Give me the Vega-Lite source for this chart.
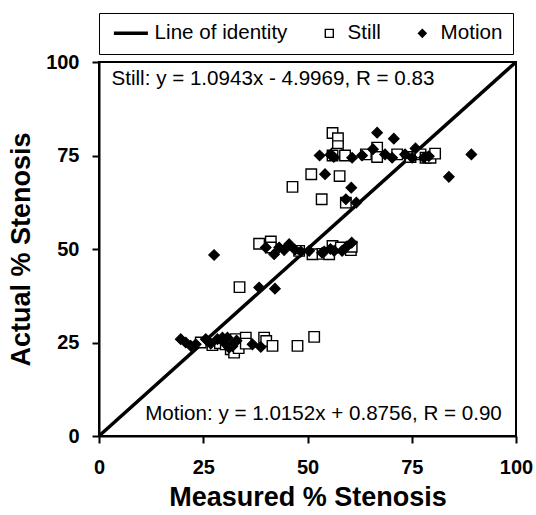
{
  "$schema": "https://vega.github.io/schema/vega-lite/v6.json",
  "width": 417,
  "height": 374,
  "padding": {"left": 7, "top": 12, "right": 2, "bottom": 6},
  "background": "white",
  "config": {
    "view": {"stroke": "black", "strokeWidth": 2},
    "axis": {
      "domainColor": "black", "domainWidth": 2, "tickColor": "black", "tickWidth": 2, "tickSize": 7,
      "grid": false, "labelFont": "Liberation Sans", "labelFontWeight": "bold", "labelFontSize": 20,
      "labelColor": "black", "titleFont": "Liberation Sans", "titleFontWeight": "bold",
      "titleFontSize": 27, "titleColor": "black", "labelFlush": false
    },
    "legend": {
      "orient": "none", "legendX": 0, "legendY": -49, "direction": "horizontal",
      "strokeColor": "black", "padding": 10, "columnPadding": 31, "labelOffset": 8,
      "labelFont": "Liberation Sans", "labelFontSize": 20.6, "labelColor": "black",
      "symbolSize": 64, "titleOrient": "left", "titleFontSize": 1, "titlePadding": 17
    }
  },
  "datasets": {
    "identity": [{"x": 0, "y": 0}, {"x": 100, "y": 100}],
    "points": [
      {"series": "Still", "measured": 56.0, "actual": 81.0},
      {"series": "Still", "measured": 57.3, "actual": 79.6},
      {"series": "Still", "measured": 57.3, "actual": 77.5},
      {"series": "Still", "measured": 57.0, "actual": 75.5},
      {"series": "Still", "measured": 56.0, "actual": 75.0},
      {"series": "Still", "measured": 59.0, "actual": 75.0},
      {"series": "Still", "measured": 64.0, "actual": 75.3},
      {"series": "Still", "measured": 66.7, "actual": 77.1},
      {"series": "Still", "measured": 66.7, "actual": 74.6},
      {"series": "Still", "measured": 71.5, "actual": 75.3},
      {"series": "Still", "measured": 74.7, "actual": 74.6},
      {"series": "Still", "measured": 77.1, "actual": 75.3},
      {"series": "Still", "measured": 78.3, "actual": 74.4},
      {"series": "Still", "measured": 79.5, "actual": 74.4},
      {"series": "Still", "measured": 80.6, "actual": 75.5},
      {"series": "Still", "measured": 50.9, "actual": 70.0},
      {"series": "Still", "measured": 57.7, "actual": 69.5},
      {"series": "Still", "measured": 46.4, "actual": 66.6},
      {"series": "Still", "measured": 53.4, "actual": 63.3},
      {"series": "Still", "measured": 59.2, "actual": 62.4},
      {"series": "Still", "measured": 38.4, "actual": 51.4},
      {"series": "Still", "measured": 41.2, "actual": 52.0},
      {"series": "Still", "measured": 41.2, "actual": 50.4},
      {"series": "Still", "measured": 48.0, "actual": 49.5},
      {"series": "Still", "measured": 51.2, "actual": 48.6},
      {"series": "Still", "measured": 53.6, "actual": 48.7},
      {"series": "Still", "measured": 55.2, "actual": 48.6},
      {"series": "Still", "measured": 56.0, "actual": 50.8},
      {"series": "Still", "measured": 58.0, "actual": 50.4},
      {"series": "Still", "measured": 60.4, "actual": 49.7},
      {"series": "Still", "measured": 60.6, "actual": 50.6},
      {"series": "Still", "measured": 33.7, "actual": 39.8},
      {"series": "Still", "measured": 24.4, "actual": 25.0},
      {"series": "Still", "measured": 27.2, "actual": 24.3},
      {"series": "Still", "measured": 29.0, "actual": 24.8},
      {"series": "Still", "measured": 30.4, "actual": 24.5},
      {"series": "Still", "measured": 31.6, "actual": 23.2},
      {"series": "Still", "measured": 32.4, "actual": 22.3},
      {"series": "Still", "measured": 32.8, "actual": 25.9},
      {"series": "Still", "measured": 33.5, "actual": 23.5},
      {"series": "Still", "measured": 35.2, "actual": 26.3},
      {"series": "Still", "measured": 35.2, "actual": 24.7},
      {"series": "Still", "measured": 39.6, "actual": 26.3},
      {"series": "Still", "measured": 40.1, "actual": 25.4},
      {"series": "Still", "measured": 41.6, "actual": 24.1},
      {"series": "Still", "measured": 47.6, "actual": 24.1},
      {"series": "Still", "measured": 51.6, "actual": 26.5},
      {"series": "Motion", "measured": 52.9, "actual": 75.0},
      {"series": "Motion", "measured": 55.5, "actual": 75.2},
      {"series": "Motion", "measured": 56.3, "actual": 74.6},
      {"series": "Motion", "measured": 60.7, "actual": 74.4},
      {"series": "Motion", "measured": 63.1, "actual": 75.0},
      {"series": "Motion", "measured": 65.7, "actual": 76.7},
      {"series": "Motion", "measured": 66.7, "actual": 81.1},
      {"series": "Motion", "measured": 70.7, "actual": 79.5},
      {"series": "Motion", "measured": 68.6, "actual": 75.3},
      {"series": "Motion", "measured": 70.3, "actual": 74.4},
      {"series": "Motion", "measured": 73.4, "actual": 75.3},
      {"series": "Motion", "measured": 75.1, "actual": 74.4},
      {"series": "Motion", "measured": 75.9, "actual": 76.9},
      {"series": "Motion", "measured": 77.9, "actual": 74.4},
      {"series": "Motion", "measured": 79.1, "actual": 74.8},
      {"series": "Motion", "measured": 89.3, "actual": 75.3},
      {"series": "Motion", "measured": 83.9, "actual": 69.3},
      {"series": "Motion", "measured": 54.2, "actual": 70.0},
      {"series": "Motion", "measured": 60.5, "actual": 66.4},
      {"series": "Motion", "measured": 59.2, "actual": 63.3},
      {"series": "Motion", "measured": 61.7, "actual": 62.4},
      {"series": "Motion", "measured": 27.6, "actual": 48.4},
      {"series": "Motion", "measured": 40.0, "actual": 50.4},
      {"series": "Motion", "measured": 42.0, "actual": 48.6},
      {"series": "Motion", "measured": 43.2, "actual": 50.4},
      {"series": "Motion", "measured": 45.6, "actual": 51.3},
      {"series": "Motion", "measured": 44.4, "actual": 49.7},
      {"series": "Motion", "measured": 47.0, "actual": 49.8},
      {"series": "Motion", "measured": 48.4, "actual": 49.3},
      {"series": "Motion", "measured": 50.4, "actual": 49.5},
      {"series": "Motion", "measured": 53.5, "actual": 49.0},
      {"series": "Motion", "measured": 54.0, "actual": 49.3},
      {"series": "Motion", "measured": 55.5, "actual": 50.0},
      {"series": "Motion", "measured": 56.4, "actual": 49.5},
      {"series": "Motion", "measured": 58.3, "actual": 49.5},
      {"series": "Motion", "measured": 59.2, "actual": 50.4},
      {"series": "Motion", "measured": 60.6, "actual": 51.7},
      {"series": "Motion", "measured": 38.4, "actual": 39.7},
      {"series": "Motion", "measured": 42.2, "actual": 39.4},
      {"series": "Motion", "measured": 19.6, "actual": 25.9},
      {"series": "Motion", "measured": 20.8, "actual": 25.0},
      {"series": "Motion", "measured": 22.0, "actual": 24.1},
      {"series": "Motion", "measured": 23.2, "actual": 24.5},
      {"series": "Motion", "measured": 25.6, "actual": 25.9},
      {"series": "Motion", "measured": 26.8, "actual": 24.7},
      {"series": "Motion", "measured": 28.4, "actual": 25.9},
      {"series": "Motion", "measured": 29.6, "actual": 26.3},
      {"series": "Motion", "measured": 30.0, "actual": 25.0},
      {"series": "Motion", "measured": 30.8, "actual": 26.3},
      {"series": "Motion", "measured": 31.2, "actual": 23.6},
      {"series": "Motion", "measured": 32.0, "actual": 24.0},
      {"series": "Motion", "measured": 33.0, "actual": 25.5},
      {"series": "Motion", "measured": 36.8, "actual": 24.5},
      {"series": "Motion", "measured": 38.8, "actual": 23.8}
    ]
  },
  "layer": [
    {
      "data": {"name": "identity"},
      "mark": {"type": "line", "color": "black", "strokeWidth": 3.5},
      "encoding": {
        "x": {"field": "x", "type": "quantitative",
              "scale": {"domain": [0, 100], "nice": false},
              "axis": {"values": [0, 25, 50, 75, 100], "labelPadding": 14, "titlePadding": 7, "title": "Measured % Stenosis"}},
        "y": {"field": "y", "type": "quantitative",
              "scale": {"domain": [0, 100], "nice": false},
              "axis": {"values": [0, 25, 50, 75, 100], "labelPadding": 13, "titlePadding": 10, "title": "Actual % Stenosis"}}
      }
    },
    {
      "data": {"name": "points"},
      "mark": {"type": "point", "filled": true, "size": 110, "opacity": 1},
      "encoding": {
        "x": {"field": "measured", "type": "quantitative"},
        "y": {"field": "actual", "type": "quantitative"},
        "shape": {"field": "series", "type": "nominal",
                  "scale": {"domain": ["Line of identity", "Still", "Motion"], "range": ["M-5.6,0L2.9,0", "square", "diamond"]},
                  "legend": {"title": " "}},
        "fill": {"field": "series", "type": "nominal",
                 "scale": {"domain": ["Line of identity", "Still", "Motion"], "range": ["black", "white", "black"]},
                 "legend": {"title": " "}},
        "stroke": {"field": "series", "type": "nominal",
                 "scale": {"domain": ["Line of identity", "Still", "Motion"], "range": ["black", "black", "black"]},
                 "legend": {"title": " "}},
        "strokeWidth": {"field": "series", "type": "nominal",
                 "scale": {"type": "ordinal", "domain": ["Line of identity", "Still", "Motion"], "range": [3.5, 1.4, 1.2]},
                 "legend": {"title": " "}}
      }
    },
    {
      "data": {"values": [{}]},
      "mark": {"type": "text", "align": "left", "baseline": "middle", "font": "Liberation Sans", "fontSize": 20.6, "color": "black"},
      "encoding": {
        "x": {"datum": 3},
        "y": {"datum": 95.4},
        "text": {"value": "Still: y = 1.0943x - 4.9969, R = 0.83"}
      }
    },
    {
      "data": {"values": [{}]},
      "mark": {"type": "text", "align": "right", "baseline": "middle", "font": "Liberation Sans", "fontSize": 20.6, "color": "black"},
      "encoding": {
        "x": {"datum": 96.6},
        "y": {"datum": 5.9},
        "text": {"value": "Motion: y = 1.0152x + 0.8756, R = 0.90"}
      }
    }
  ]
}
